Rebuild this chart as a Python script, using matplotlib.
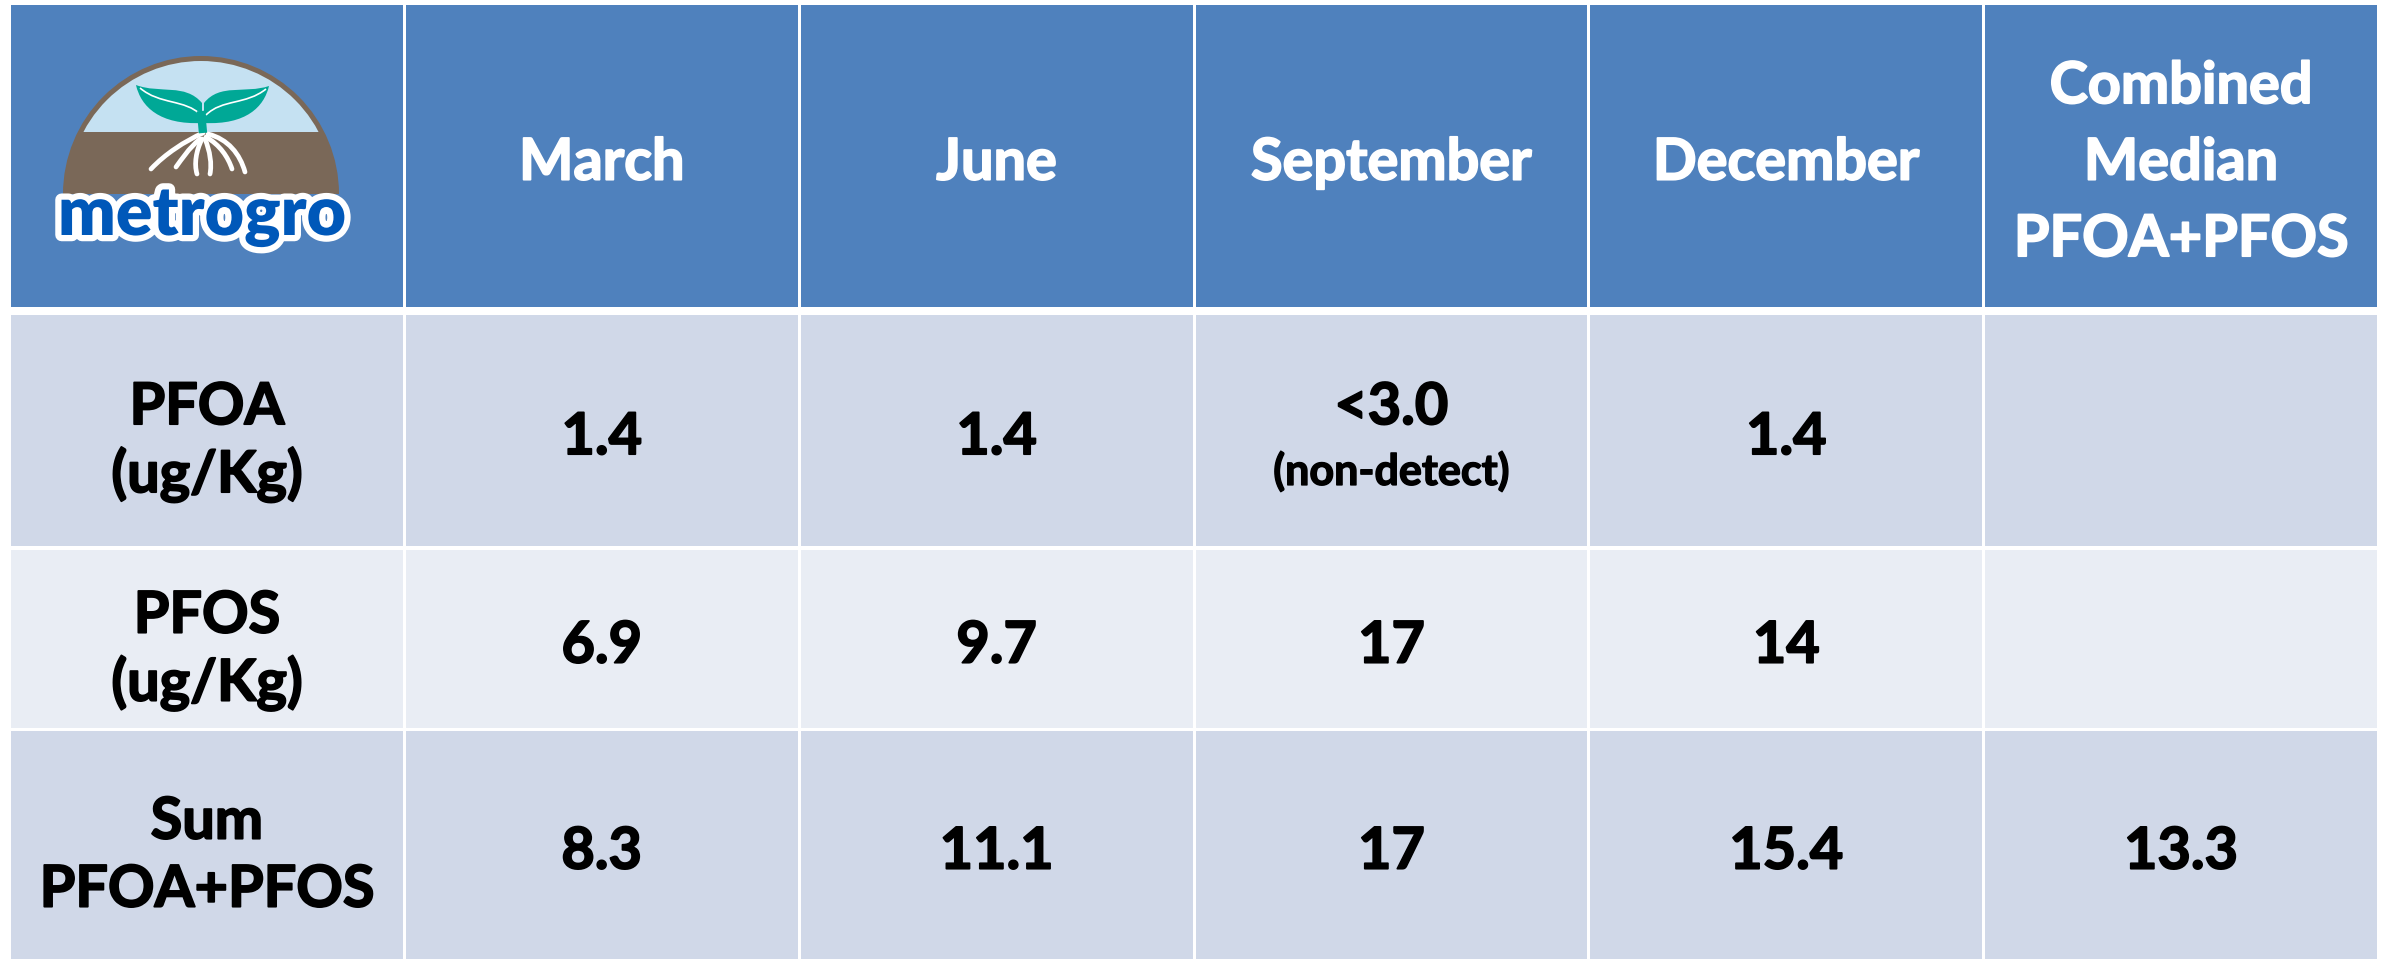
import numpy as np
import matplotlib
matplotlib.use("Agg")
import matplotlib.pyplot as plt
from matplotlib.patches import Rectangle, Wedge, PathPatch
from matplotlib.path import Path
import matplotlib.patheffects as pe

# ---------------- data ----------------
months = ["March", "June", "September", "December"]
median_header = ["Combined", "Median", "PFOA+PFOS"]
row_labels = [["PFOA", "(ug/Kg)"], ["PFOS", "(ug/Kg)"], ["Sum", "PFOA+PFOS"]]
pfoa_values = ["1.4", "1.4", "<3.0", "1.4"]
pfoa_notes = ["", "", "(non-detect)", ""]
pfos_values = ["6.9", "9.7", "17", "14"]
sum_values = ["8.3", "11.1", "17", "15.4"]
combined_median = ["", "", "13.3"]
logo_text = "metrogro"

# ---------------- style ----------------
W, H = 2389, 962
FONT = ["Lato", "DejaVu Sans"]
HEADER_C = "#4F81BD"
ROW_C = ["#D0D8E8", "#E9EDF4", "#D0D8E8"]
FS = 41.5                      # points
FS_PX = FS * 100 / 72.0
CAP = 0.7165 * FS_PX
FS_SMALL = 31.0
CAP_SMALL = 0.7165 * FS_SMALL * 100 / 72.0

fig = plt.figure(figsize=(W / 100, H / 100), dpi=100)
fig.patch.set_facecolor("white")
ax = fig.add_axes([0, 0, 1, 1])
ax.set_xlim(0, W)
ax.set_ylim(H, 0)
ax.axis("off")

# ---------------- layout ----------------
x0, x1 = 11, 2377
gap = 3
ncols = 6
col_w = (x1 - x0 - gap * (ncols - 1)) / ncols
col_left = [x0 + i * (col_w + gap) for i in range(ncols)]
col_center = [l + col_w / 2 for l in col_left]
rows = [(6, 308), (316, 547), (551, 729), (732, 960)]


def put(x, cap_center, s, color="black", fs=FS, cap=CAP, stroke=1.3):
    ax.text(x, cap_center + cap / 2, s, ha="center", va="baseline",
            fontsize=fs, fontweight="bold", color=color, family=FONT,
            path_effects=[pe.withStroke(linewidth=stroke, foreground=color)])


# cell backgrounds
for r, (top, bot) in enumerate(rows):
    color = HEADER_C if r == 0 else ROW_C[r - 1]
    for c in range(ncols):
        ax.add_patch(Rectangle((col_left[c], top), col_w, bot - top,
                               facecolor=color, edgecolor="none"))

# header texts
hc = (rows[0][0] + rows[0][1]) / 2 + 3
for i, m in enumerate(months):
    put(col_center[i + 1], hc, m, color="white")
for k, line in enumerate(median_header):
    put(col_center[5], hc + (k - 1) * 76.5, line, color="white")

# body
body = [pfoa_values, pfos_values, sum_values]
for r in range(3):
    top, bot = rows[r + 1]
    cc = (top + bot) / 2
    for k, line in enumerate(row_labels[r]):
        put(col_center[0], cc + 7 + (k - 0.5) * 68, line)
    for c, v in enumerate(body[r]):
        if r == 0 and pfoa_notes[c]:
            put(col_center[c + 1], cc - 27, v)
            put(col_center[c + 1], cc + 39, pfoa_notes[c], fs=FS_SMALL,
                cap=CAP_SMALL, stroke=1.0)
        else:
            put(col_center[c + 1], cc + 3, v)
    if combined_median[r]:
        put(col_center[5], cc + 3, combined_median[r])

# ---------------- logo ----------------
cx, cy, R = 201, 195, 138
horizon = 133
brown = "#7A6858"
sky = "#C5E1F2"
teal = "#00A896"
ax.add_patch(Wedge((cx, cy), R, 180, 360, facecolor=brown, edgecolor="none"))
sky_patch = Wedge((cx, cy), R - 5, 180, 360, facecolor=sky, edgecolor="none")
ax.add_patch(sky_patch)
clip = Rectangle((0, 0), W, horizon, transform=ax.transData)
sky_patch.set_clip_path(clip)

# stem
ax.plot([201, 203], [112, 134], color=teal, lw=6, solid_capstyle="butt")

# leaves
left_leaf = Path(
    [(202, 104), (185, 84), (160, 95), (136, 86),
     (141, 108), (160, 126), (202, 124), (202, 104)],
    [Path.MOVETO, Path.CURVE4, Path.CURVE4, Path.CURVE4,
     Path.CURVE4, Path.CURVE4, Path.CURVE4, Path.CLOSEPOLY])
right_leaf = Path(
    [(204, 104), (220, 84), (245, 95), (269, 87),
     (264, 108), (246, 126), (204, 124), (204, 104)],
    [Path.MOVETO, Path.CURVE4, Path.CURVE4, Path.CURVE4,
     Path.CURVE4, Path.CURVE4, Path.CURVE4, Path.CLOSEPOLY])
ax.add_patch(PathPatch(left_leaf, facecolor=teal, edgecolor="none"))
ax.add_patch(PathPatch(right_leaf, facecolor=teal, edgecolor="none"))
vein_l = Path([(140, 89), (160, 106), (185, 100), (201, 116)],
              [Path.MOVETO, Path.CURVE4, Path.CURVE4, Path.CURVE4])
vein_r = Path([(266, 90), (246, 106), (222, 100), (206, 116)],
              [Path.MOVETO, Path.CURVE4, Path.CURVE4, Path.CURVE4])
for v in (vein_l, vein_r):
    ax.add_patch(PathPatch(v, facecolor="none", edgecolor="white", lw=1.2))

# roots
roots = [
    [(203, 134), (185, 142), (165, 155), (151, 170)],
    [(200, 140), (188, 150), (182, 160), (176, 168)],
    [(202, 140), (196, 152), (194, 165), (197, 175)],
    [(205, 140), (210, 152), (212, 165), (210, 175)],
    [(206, 138), (220, 146), (228, 158), (232, 170)],
    [(208, 135), (228, 140), (240, 155), (245, 173)],
]
for pts in roots:
    p = Path(pts, [Path.MOVETO, Path.CURVE4, Path.CURVE4, Path.CURVE4])
    ax.add_patch(PathPatch(p, facecolor="none", edgecolor="white", lw=3.4,
                           capstyle="round"))

# logo word
ax.text(cx + 1, 236, logo_text, ha="center", va="baseline", fontsize=49,
        fontweight="heavy", color="#0058B9", family=FONT,
        path_effects=[pe.withStroke(linewidth=9, foreground="white")])

fig.savefig("out.png", dpi=100, facecolor="white")
